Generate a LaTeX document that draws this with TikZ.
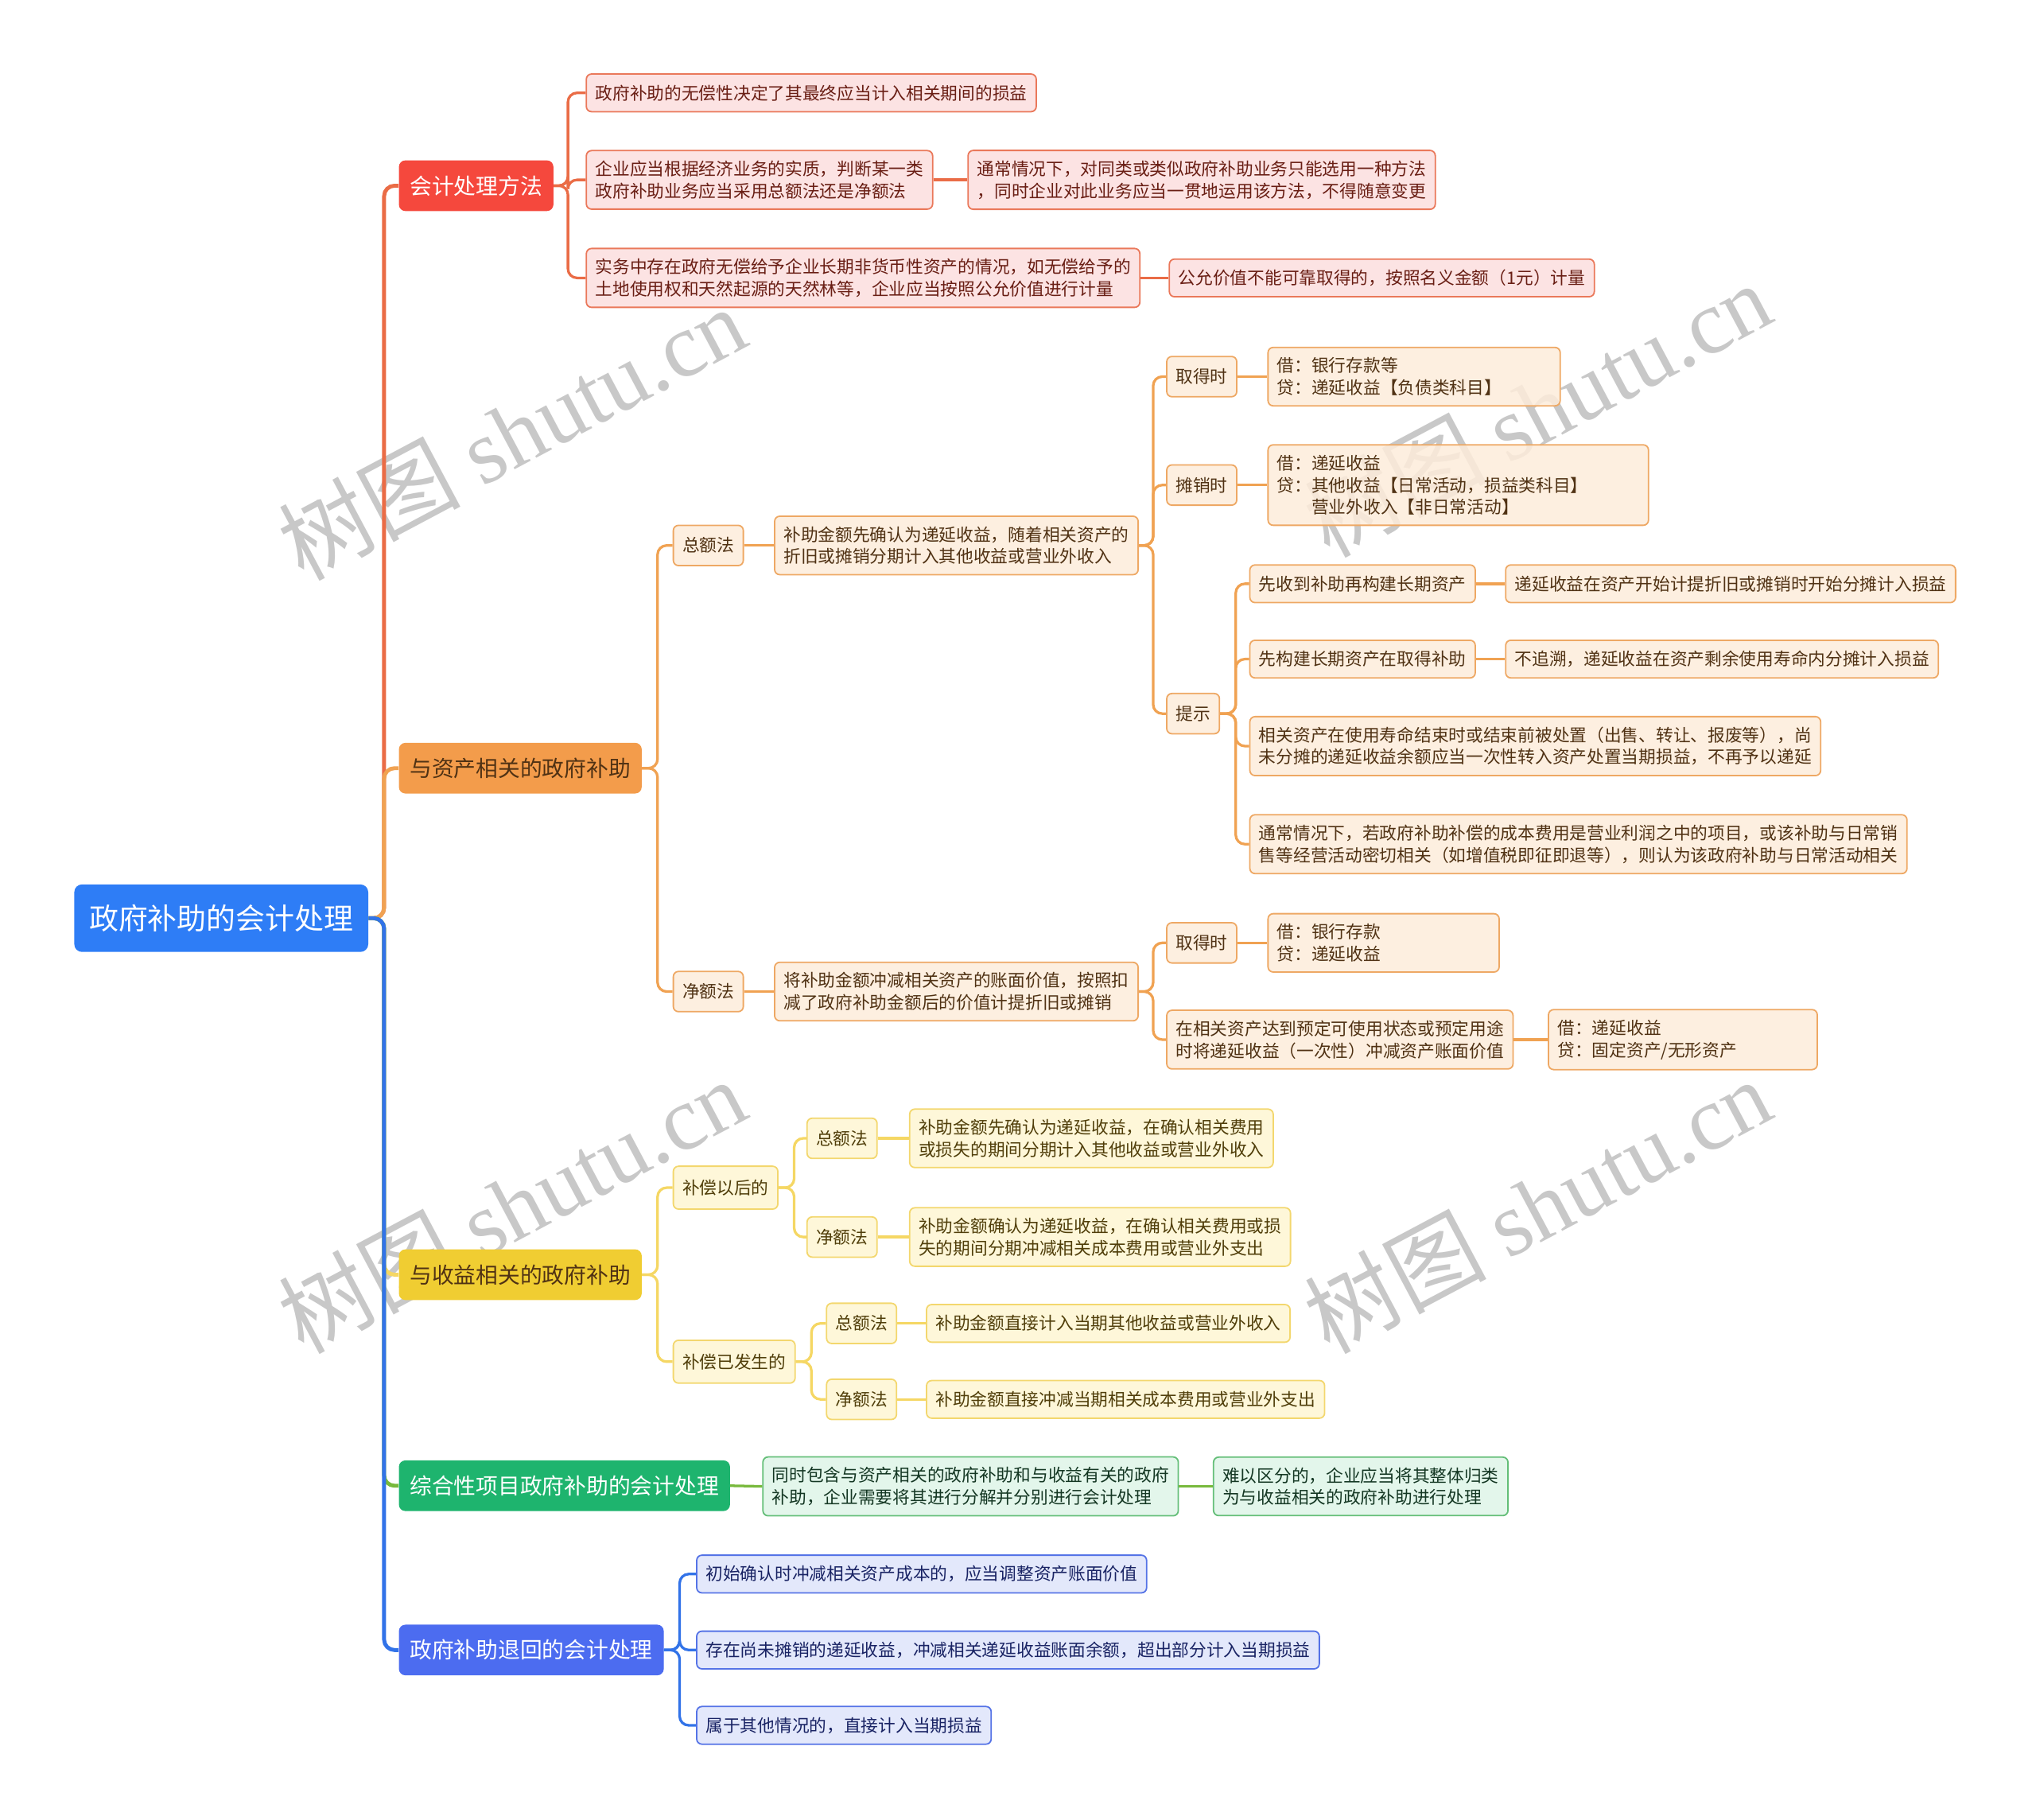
\documentclass[tikz,border=0pt]{standalone}
\usepackage{fontspec}
\setmainfont{Noto Sans CJK SC}
\newfontfamily\wmfont{Liberation Serif}
\usetikzlibrary{backgrounds}
\definecolor{RootBlue}{RGB}{46,125,246}
\definecolor{RedM}{RGB}{245,72,61}
\definecolor{RedL}{RGB}{234,108,70}
\definecolor{RedF}{RGB}{252,222,222}
\definecolor{RedB}{RGB}{234,120,90}
\definecolor{RedT}{RGB}{105,30,20}
\definecolor{OrgM}{RGB}{243,156,75}
\definecolor{OrgL}{RGB}{240,162,82}
\definecolor{OrgF}{RGB}{253,236,218}
\definecolor{OrgB}{RGB}{238,168,100}
\definecolor{OrgT}{RGB}{80,50,20}
\definecolor{YelM}{RGB}{240,205,50}
\definecolor{YelL}{RGB}{245,215,100}
\definecolor{YelF}{RGB}{254,246,210}
\definecolor{YelB}{RGB}{243,215,110}
\definecolor{YelT}{RGB}{80,62,10}
\definecolor{GrnM}{RGB}{30,180,110}
\definecolor{GrnL}{RGB}{120,185,60}
\definecolor{GrnF}{RGB}{222,245,232}
\definecolor{GrnB}{RGB}{100,190,120}
\definecolor{GrnT}{RGB}{20,55,35}
\definecolor{IndM}{RGB}{76,108,240}
\definecolor{IndL}{RGB}{50,115,232}
\definecolor{IndF}{RGB}{222,228,250}
\definecolor{IndB}{RGB}{85,115,230}
\definecolor{IndT}{RGB}{25,35,100}
\definecolor{WM}{RGB}{200,200,200}
\begin{document}
\begin{tikzpicture}[x=1pt,y=-1pt,
  rootnode/.style={rounded corners=6pt, anchor=west, inner xsep=11.5pt, minimum height=52pt, fill=RootBlue, text=white, font=\fontsize{22.6}{26}\selectfont},
  lvl/.style={rounded corners=5pt, anchor=west, inner xsep=8.5pt, minimum height=39pt, font=\fontsize{17}{20}\selectfont},
  leaf/.style={rounded corners=4pt, anchor=west, inner xsep=7pt, inner ysep=7.8pt, minimum height=29pt, align=left, line width=1.1pt, fill opacity=0.85, text opacity=1, font=\fontsize{13.3}{17}\selectfont},
  leafR/.style={leaf, draw=RedB, fill=RedF, text=RedT},
  leafO/.style={leaf, draw=OrgB, fill=OrgF, text=OrgT},
  leafY/.style={leaf, draw=YelB, fill=YelF, text=YelT},
  leafG/.style={leaf, draw=GrnB, fill=GrnF, text=GrnT},
  leafI/.style={leaf, draw=IndB, fill=IndF, text=IndT},
  labO/.style={leafO, minimum height=31pt},
  labY/.style={leafY, minimum height=31pt},
  spine/.style={line width=3pt, rounded corners=8pt},
  conn/.style={line width=2pt, rounded corners=7pt},
  wm/.style={text=WM, font=\fontsize{70}{74}\selectfont, rotate=28}
]
\useasboundingbox (0,0) rectangle (1568,1401.4);

% root and level 1
\node[rootnode] (root) at (57,707) {政府补助的会计处理};
\node[lvl, fill=RedM, text=white] (A) at (307,143) {会计处理方法};
\node[lvl, fill=OrgM, text=OrgT] (B) at (307,591.5) {与资产相关的政府补助};
\node[lvl, fill=YelM, text=OrgT] (C) at (307,981.5) {与收益相关的政府补助};
\node[lvl, fill=GrnM, text=white] (D) at (307,1144) {综合性项目政府补助的会计处理};
\node[lvl, fill=IndM, text=white] (E) at (307,1270.5) {政府补助退回的会计处理};

% red branch
\node[leafR] (A1) at (451,71.5) {政府补助的无偿性决定了其最终应当计入相关期间的损益};
\node[leafR] (A2) at (451,138.5) {企业应当根据经济业务的实质，判断某一类\\政府补助业务应当采用总额法还是净额法};
\node[leafR] (A2a) at (745,138.5) {通常情况下，对同类或类似政府补助业务只能选用一种方法\\，同时企业对此业务应当一贯地运用该方法，不得随意变更};
\node[leafR] (A3) at (451,214) {实务中存在政府无偿给予企业长期非货币性资产的情况，如无偿给予的\\土地使用权和天然起源的天然林等，企业应当按照公允价值进行计量};
\node[leafR] (A3a) at (900,214) {公允价值不能可靠取得的，按照名义金额（1元）计量};

% orange branch
\node[labO] (B1) at (518,420) {总额法};
\node[leafO] (B1d) at (596,420) {补助金额先确认为递延收益，随着相关资产的\\折旧或摊销分期计入其他收益或营业外收入};
\node[labO] (B11) at (898,290) {取得时};
\node[leafO, text width=211pt] (B11d) at (976,290) {借：银行存款等\\贷：递延收益【负债类科目】};
\node[labO] (B12) at (898,373.5) {摊销时};
\node[leafO, text width=279pt] (B12d) at (976,373.5) {借：递延收益\\贷：其他收益【日常活动，损益类科目】\\\hspace*{2em}营业外收入【非日常活动】};
\node[labO] (B13) at (898,549.5) {提示};
\node[leafO] (B131) at (962,449.5) {先收到补助再构建长期资产};
\node[leafO] (B131a) at (1159,449.5) {递延收益在资产开始计提折旧或摊销时开始分摊计入损益};
\node[leafO] (B132) at (962,507.5) {先构建长期资产在取得补助};
\node[leafO] (B132a) at (1159,507.5) {不追溯，递延收益在资产剩余使用寿命内分摊计入损益};
\node[leafO] (B133) at (962,574.5) {相关资产在使用寿命结束时或结束前被处置（出售、转让、报废等），尚\\未分摊的递延收益余额应当一次性转入资产处置当期损益，不再予以递延};
\node[leafO] (B134) at (962,650) {通常情况下，若政府补助补偿的成本费用是营业利润之中的项目，或该补助与日常销\\售等经营活动密切相关（如增值税即征即退等），则认为该政府补助与日常活动相关};
\node[labO] (B2) at (518,763.5) {净额法};
\node[leafO] (B2d) at (596,763.5) {将补助金额冲减相关资产的账面价值，按照扣\\减了政府补助金额后的价值计提折旧或摊销};
\node[labO] (B21) at (898,726) {取得时};
\node[leafO, text width=164pt] (B21d) at (976,726) {借：银行存款\\贷：递延收益};
\node[leafO] (B22) at (898,800.5) {在相关资产达到预定可使用状态或预定用途\\时将递延收益（一次性）冲减资产账面价值};
\node[leafO, text width=193pt] (B22d) at (1192,800.5) {借：递延收益\\贷：固定资产/无形资产};

% yellow branch
\node[labY, minimum height=33pt] (C1) at (518,914.5) {补偿以后的};
\node[labY] (C11) at (621,876.5) {总额法};
\node[leafY] (C11d) at (700,876.5) {补助金额先确认为递延收益，在确认相关费用\\或损失的期间分期计入其他收益或营业外收入};
\node[labY] (C12) at (621,952.5) {净额法};
\node[leafY] (C12d) at (700,952.5) {补助金额确认为递延收益，在确认相关费用或损\\失的期间分期冲减相关成本费用或营业外支出};
\node[labY, minimum height=33pt] (C2) at (518,1048.5) {补偿已发生的};
\node[labY] (C21) at (636,1019) {总额法};
\node[leafY] (C21d) at (713,1019) {补助金额直接计入当期其他收益或营业外收入};
\node[labY] (C22) at (636,1077.5) {净额法};
\node[leafY] (C22d) at (713,1077.5) {补助金额直接冲减当期相关成本费用或营业外支出};

% green branch
\node[leafG] (D1) at (587,1144.5) {同时包含与资产相关的政府补助和与收益有关的政府\\补助，企业需要将其进行分解并分别进行会计处理};
\node[leafG] (D1a) at (934,1144.5) {难以区分的，企业应当将其整体归类\\为与收益相关的政府补助进行处理};

% indigo branch
\node[leafI] (E1) at (536,1212) {初始确认时冲减相关资产成本的，应当调整资产账面价值};
\node[leafI] (E2) at (536,1270.5) {存在尚未摊销的递延收益，冲减相关递延收益账面余额，超出部分计入当期损益};
\node[leafI] (E3) at (536,1328.5) {属于其他情况的，直接计入当期损益};

% connectors from root
\draw[spine, RedL] (root.east) -- ++(12,0) |- (A.west);
\draw[spine, OrgL] (root.east) -- ++(12,0) |- (B.west);
\draw[spine, YelL] (root.east) -- ++(12,0) |- (C.west);
\draw[spine, GrnL] (root.east) -- ++(12,0) |- (D.west);
\draw[spine, IndL] (root.east) -- ++(12,0) |- (E.west);

% red connectors
\foreach \n in {A1,A2,A3} \draw[conn, RedL] (A.east) -- ++(11,0) |- (\n.west);
\draw[conn, RedL] (A2.east) -- (A2a.west);
\draw[conn, RedL] (A3.east) -- (A3a.west);

% orange connectors
\foreach \n in {B1,B2} \draw[conn, OrgL] (B.east) -- ++(12,0) |- (\n.west);
\draw[conn, OrgL] (B1.east) -- (B1d.west);
\foreach \n in {B11,B12,B13} \draw[conn, OrgL] (B1d.east) -- ++(11,0) |- (\n.west);
\draw[conn, OrgL] (B11.east) -- (B11d.west);
\draw[conn, OrgL] (B12.east) -- (B12d.west);
\foreach \n in {B131,B132,B133,B134} \draw[conn, OrgL] (B13.east) -- ++(12,0) |- (\n.west);
\draw[conn, OrgL] (B131.east) -- (B131a.west);
\draw[conn, OrgL] (B132.east) -- (B132a.west);
\draw[conn, OrgL] (B2.east) -- (B2d.west);
\foreach \n in {B21,B22} \draw[conn, OrgL] (B2d.east) -- ++(11,0) |- (\n.west);
\draw[conn, OrgL] (B21.east) -- (B21d.west);
\draw[conn, OrgL] (B22.east) -- (B22d.west);

% yellow connectors
\foreach \n in {C1,C2} \draw[conn, YelL] (C.east) -- ++(12,0) |- (\n.west);
\foreach \n in {C11,C12} \draw[conn, YelL] (C1.east) -- ++(12,0) |- (\n.west);
\foreach \n in {C21,C22} \draw[conn, YelL] (C2.east) -- ++(12,0) |- (\n.west);
\draw[conn, YelL] (C11.east) -- (C11d.west);
\draw[conn, YelL] (C12.east) -- (C12d.west);
\draw[conn, YelL] (C21.east) -- (C21d.west);
\draw[conn, YelL] (C22.east) -- (C22d.west);

% green connectors
\draw[conn, GrnL] (D.east) -- (D1.west);
\draw[conn, GrnL] (D1.east) -- (D1a.west);

% indigo connectors
\foreach \n in {E1,E2,E3} \draw[conn, IndL] (E.east) -- ++(12,0) |- (\n.west);

% watermarks (behind the diagram)
\begin{scope}[on background layer]
\node[wm] (wm1) at (394,333) {树图 {\wmfont shutu.cn}};
\node[wm] (wm2) at (1184,315) {树图 {\wmfont shutu.cn}};
\node[wm] (wm3) at (394,928) {树图 {\wmfont shutu.cn}};
\node[wm] (wm4) at (1184,928) {树图 {\wmfont shutu.cn}};
\end{scope}
\end{tikzpicture}
\end{document}
